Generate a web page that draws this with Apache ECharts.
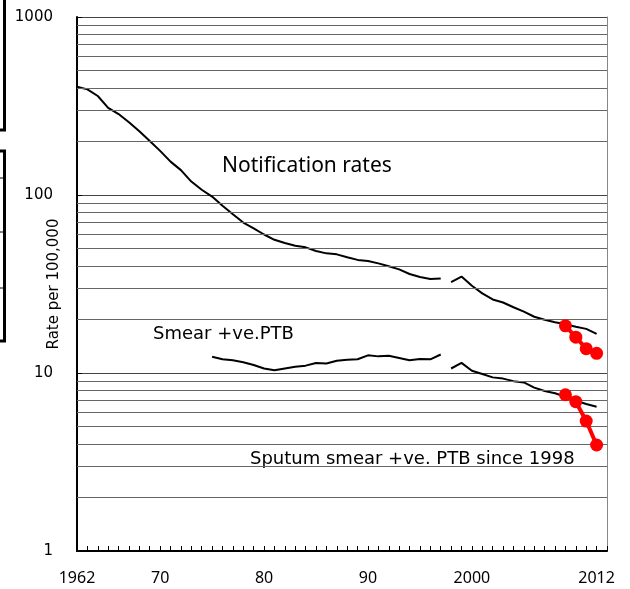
<!DOCTYPE html>
<html>
<head>
<meta charset="utf-8">
<script src="https://cdn.jsdelivr.net/npm/echarts@6/dist/echarts.min.js"></script>
<style>
  html, body { margin: 0; padding: 0; background: #fff; }
  #chart { width: 630px; height: 589px; }
</style>
</head>
<body>
<div id="chart"></div>
<script>
// notification rates, old definition, 1962-1997
const notifOldStart = 1962
const notifOld = [406, 392, 360, 309, 285, 256, 228, 201, 177, 154, 138, 119, 107, 98, 87, 78, 70, 65,
  60, 56, 53.7, 51.9, 50.8, 48.5, 47, 46.4, 44.7, 43.2, 42.6, 41.3, 39.8, 38.2, 36, 34.6, 33.7, 34.0]
// notification rates since 1998
const notifNewStart = 1998
const notifNew = [32.4, 34.8, 30.9, 28.0, 25.9, 24.9, 23.4, 22.1, 20.7, 19.9, 19.3, 18.8, 18.2, 17.7, 16.6]
// smear +ve PTB, 1975-1997
const smearOldStart = 1975
const smearOld = [12.35, 11.94, 11.78, 11.5, 11.09, 10.6, 10.35, 10.6, 10.85, 11.0, 11.37, 11.3, 11.72,
  11.87, 11.94, 12.57, 12.4, 12.5, 12.15, 11.78, 11.98, 11.94, 12.7]
// sputum smear +ve PTB since 1998
const smearNewStart = 1998
const smearNew = [10.6, 11.4, 10.3, 9.87, 9.45, 9.3, 9.0, 8.85, 8.28, 7.93, 7.69, 7.35, 6.98, 6.7, 6.47]
// red points 2009-2012
const redStart = 2009
const redNotif = [18.4, 15.9, 13.7, 12.9]
const redSmear = [7.55, 6.9, 5.37, 3.94]

const xLabelYears = [1962, 1970, 1980, 1990, 2000, 2012]
const xLabelText = ['1962', '70', '80', '90', '2000', '2012']
const minorGrid = [2, 3, 4, 5, 6, 7, 8, 9, 20, 30, 40, 50, 60, 70, 80, 90, 200, 300, 400, 500, 600, 700, 800, 900]

const pairs = (start, vals) => vals.map((v, i) => [start + i, v])

const blackLine = (name, data) => ({
  name: name,
  type: 'line',
  data: data,
  symbol: 'none',
  lineStyle: { color: '#000', width: 2 },
  z: 3
})
const redLine = (name, data) => ({
  name: name,
  type: 'line',
  data: data,
  symbol: 'circle',
  symbolSize: 13,
  itemStyle: { color: '#ff0000' },
  lineStyle: { color: '#ff0000', width: 4 },
  z: 5
})

const chart = echarts.init(document.getElementById('chart'))
chart.setOption({
  animation: false,
  grid: { left: 77, right: 23, top: 17, bottom: 38, containLabel: false, outerBoundsMode: 'none' },
  xAxis: {
    type: 'value',
    min: 1962,
    max: 2013,
    interval: 1,
    axisLine: { lineStyle: { color: '#000', width: 2 } },
    axisTick: { inside: true, length: 5, lineStyle: { color: '#000' } },
    splitLine: { show: false },
    axisLabel: {
      margin: 19,
      color: '#000',
      fontFamily: 'Noto Sans',
      fontSize: 16,
      formatter: v => {
        const i = xLabelYears.indexOf(Math.round(v))
        return i >= 0 ? xLabelText[i] : ''
      }
    }
  },
  yAxis: [{
    type: 'log',
    logBase: 10,
    min: 1,
    max: 1000,
    name: 'Rate per 100,000',
    nameLocation: 'middle',
    nameGap: 15,
    nameMoveOverlap: false,
    nameTextStyle: { fontFamily: 'DejaVu Sans', fontSize: 15, color: '#000' },
    axisLine: { show: true, lineStyle: { color: '#000', width: 2 } },
    axisTick: { show: true, inside: true, length: 5, lineStyle: { color: '#000' } },
    axisLabel: { margin: 24, color: '#000', fontFamily: 'DejaVu Sans', fontSize: 15, formatter: v => String(v) },
    splitLine: { show: true, lineStyle: { color: '#444', width: 1 } }
  }, {
    type: 'log',
    logBase: 10,
    min: 1,
    max: 1000,
    position: 'right',
    axisLine: { show: true, lineStyle: { color: '#888', width: 1 } },
    axisTick: { show: false },
    axisLabel: { show: false },
    splitLine: { show: false }
  }],
  series: [
    {
      type: 'line',
      data: [],
      silent: true,
      markLine: {
        silent: true,
        symbol: 'none',
        label: { show: false },
        lineStyle: { color: '#666', width: 1, type: 'solid' },
        emphasis: { disabled: true },
        data: minorGrid.map(v => ({ yAxis: v }))
      }
    },
    blackLine('Notification rates', pairs(notifOldStart, notifOld)),
    blackLine('Notification rates since 1998', pairs(notifNewStart, notifNew)),
    blackLine('Smear +ve.PTB', pairs(smearOldStart, smearOld)),
    blackLine('Sputum smear +ve. PTB since 1998', pairs(smearNewStart, smearNew)),
    redLine('Notification 2009-2012', pairs(redStart, redNotif)),
    redLine('Smear 2009-2012', pairs(redStart, redSmear))
  ],
  graphic: [
    { type: 'text', left: 222, top: 156, style: { text: 'Notification rates', font: '21px "Noto Sans"', fill: '#000' } },
    { type: 'text', left: 153, top: 325, style: { text: 'Smear +ve.PTB', font: '18px "DejaVu Sans"', fill: '#000' } },
    { type: 'text', left: 250, top: 450, style: { text: 'Sputum smear +ve. PTB since 1998', font: '18px "DejaVu Sans"', fill: '#000' } },
    // fragments of the neighbouring panel at the left edge
    { type: 'polyline', shape: { points: [[4.5, 0], [4.5, 130], [0, 130]] }, style: { stroke: '#000', lineWidth: 3, fill: null } },
    { type: 'polyline', shape: { points: [[0, 151], [4.5, 151], [4.5, 341], [0, 341]] }, style: { stroke: '#000', lineWidth: 3, fill: null } },
    { type: 'line', shape: { x1: 0, y1: 178, x2: 4, y2: 178 }, style: { stroke: '#000', lineWidth: 1 } },
    { type: 'line', shape: { x1: 0, y1: 232, x2: 4, y2: 232 }, style: { stroke: '#000', lineWidth: 1 } },
    { type: 'line', shape: { x1: 0, y1: 288, x2: 4, y2: 288 }, style: { stroke: '#000', lineWidth: 1 } }
  ]
})
</script>
</body>
</html>
